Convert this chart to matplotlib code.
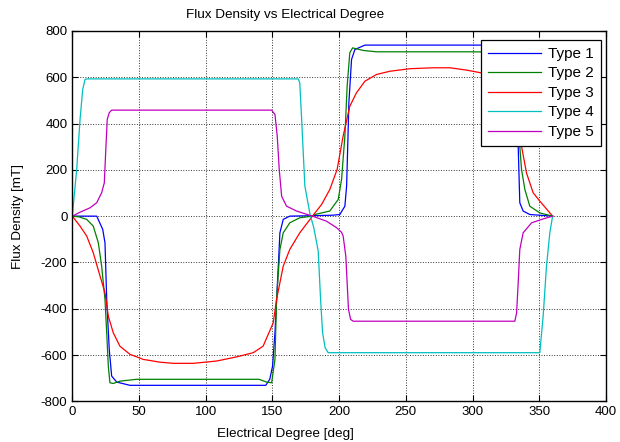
import matplotlib
matplotlib.use("Agg")
import matplotlib.pyplot as plt

plt.rcParams['font.family'] = ['Liberation Sans', 'DejaVu Sans']
plt.rcParams['axes.unicode_minus'] = False

deg_t1 = [0, 10, 18.3, 22.8, 24.5, 25.8, 27.7, 29.5, 33.3, 43.2, 100, 145, 148, 150.1, 151.9, 154.4,
          155.6, 158.1, 163, 180, 195, 200.5, 204.3, 205.6, 206.3, 207.3, 209.3, 211.8, 219.3, 280,
          329, 331, 333, 334.2, 335.4, 337.9, 342.9, 360]
flux_t1 = [0, 0, 0, -57, -115, -360, -576, -691, -717, -731, -731, -731, -705, -648, -504, -216,
           -72, -14, 0, 2, 4, 7, 43, 130, 274, 490, 677, 720, 739, 739,
           739, 690, 480, 302, 58, 22, 7, 0]

deg_t2 = [0, 5, 10.8, 15.7, 19.5, 22, 24.5, 25.8, 27, 28.2, 30.7, 35.7, 48.2, 140, 145.6, 149.4,
          151.9, 153.1, 155.6, 158.1, 163, 170.5, 180, 181.7, 193, 199.3, 201.8, 204.3, 206, 208,
          210.1, 213, 218, 228, 300, 328, 331, 333.5, 335.4, 336.7, 339.2, 342.9, 350.4, 360]
flux_t2 = [0, -3, -14, -43, -115, -216, -360, -504, -648, -720, -723, -713, -705, -705, -717, -720,
           -619, -360, -144, -72, -29, -7, 0, 7, 22, 72, 158, 346, 562, 706,
           727, 723, 716, 710, 710, 708, 660, 480, 302, 202, 115, 43, 14, 0]

deg_t3 = [0, 5.8, 10.8, 15.7, 20.8, 24.5, 27, 30.7, 35.7, 43.2, 53.2, 65.7, 75.7, 90.7, 108.2,
          123.2, 135.6, 143, 150.6, 153.1, 158.1, 163, 170.5, 180, 186.8, 193, 198.5, 203, 208,
          213, 219.3, 228, 238, 253, 270.5, 283, 295.5, 305.5, 315, 322, 328, 332, 336.7, 340.4,
          345.4, 350.4, 360]
flux_t3 = [0, -43, -86, -158, -259, -331, -432, -504, -562, -597, -619, -631, -636, -636, -626,
           -608, -590, -562, -461, -360, -216, -144, -72, 0, 50, 115, 202, 346, 475,
           533, 583, 612, 626, 637, 641, 641, 631, 620, 606, 582, 535, 450, 302, 187,
           101, 65, 0]

deg_t4 = [0, 3.3, 5.8, 7.8, 9.5, 10.8, 100, 169.3, 170.5, 171.9, 174.3, 178.1, 181, 184.3, 186.1,
          187.6, 189.5, 191.8, 260, 350.4, 352.9, 355.4, 357.9, 360]
flux_t4 = [0, 202, 417, 547, 590, 593, 593, 593, 576, 418, 130, 10, -50, -150, -360,
           -504, -569, -590, -590, -590, -432, -216, -72, 0]

deg_t5 = [0, 5.8, 13.3, 18.3, 22, 24, 25, 26.2, 27.7, 29.5, 100, 149.4, 151.9, 153.6, 155.1, 156.9,
          160.6, 168.1, 180, 190.6, 198.1, 201.8, 203, 205, 206, 207, 208.6, 210.5, 270, 331.7,
          333, 334.2, 335.4, 337.9, 344.2, 352.9, 360]
flux_t5 = [0, 17, 36, 58, 101, 144, 274, 418, 447, 458, 458, 458, 439, 346, 202, 86,
           43, 22, 0, -22, -50, -70, -86, -173, -288, -403, -446, -454, -454, -454,
           -418, -288, -144, -72, -29, -12, 0]

labels = ['Type 1', 'Type 2', 'Type 3', 'Type 4', 'Type 5']
colors = ['#0000ff', '#008000', '#ff0000', '#00bfbf', '#bf00bf']
xticks = [0, 50, 100, 150, 200, 250, 300, 350, 400]
yticks = [-800, -600, -400, -200, 0, 200, 400, 600, 800]

fig = plt.figure(figsize=(6.2, 4.42), dpi=100)
ax = fig.add_axes([0.1166, 0.0921, 0.8608, 0.8378])

series = [(deg_t1, flux_t1), (deg_t2, flux_t2), (deg_t3, flux_t3),
          (deg_t4, flux_t4), (deg_t5, flux_t5)]
for (xs, ys), lab, c in zip(series, labels, colors):
    ax.plot(xs, ys, color=c, lw=0.9, label=lab)

ax.set_xlim(0, 400)
ax.set_ylim(-800, 800)
ax.set_xticks(xticks)
ax.set_yticks(yticks)
ax.tick_params(direction='in', top=True, right=True, length=4, labelsize=9.5, width=0.8)
ax.grid(True, color='k', linestyle=':', linewidth=0.7, alpha=0.8)
for s in ax.spines.values():
    s.set_linewidth(1.0)

ax.set_title('Flux Density vs Electrical Degree', fontsize=9.7, x=0.3985, pad=9)
ax.set_xlabel('Electrical Degree [deg]', fontsize=9.7)
ax.xaxis.set_label_coords(0.3985, -0.072)
ax.set_ylabel('Flux Density [mT]', fontsize=9.7)
ax.yaxis.set_label_coords(-0.09, 0.5)

leg = ax.legend(loc='upper right', fontsize=11, frameon=True, fancybox=False,
                edgecolor='k', framealpha=1, handlelength=3.5, handletextpad=0.45,
                borderpad=0.45, labelspacing=0.36, borderaxespad=0,
                bbox_to_anchor=(0.9906, 0.9757))
leg.get_frame().set_linewidth(0.9)

fig.savefig('out.png', dpi=100)
